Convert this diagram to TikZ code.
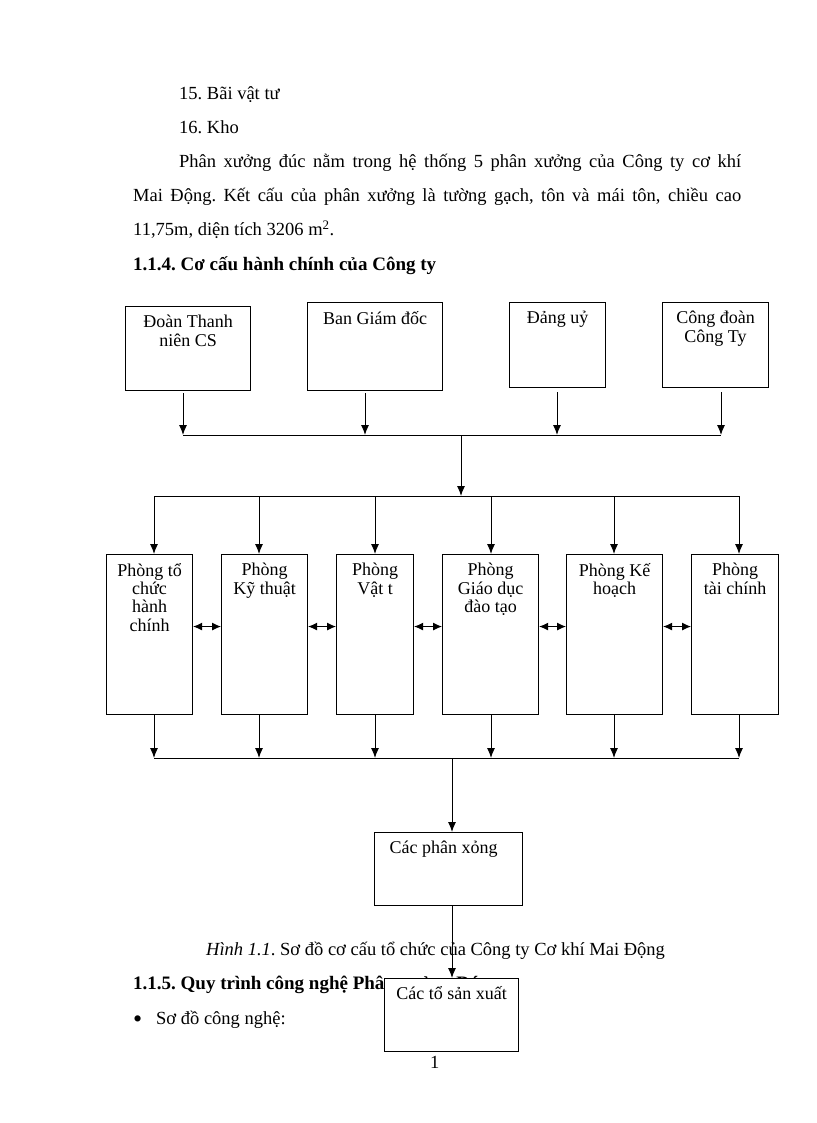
\documentclass[tikz,border=0pt]{standalone}
\usepackage{fontspec}
\setmainfont{Liberation Serif}
\usetikzlibrary{arrows.meta}
\frenchspacing

\begin{document}
\begin{tikzpicture}[x=1pt,y=-1pt,
  every node/.style={inner sep=0pt},
  body/.style={anchor=base west,font=\fontsize{18.5}{22}\selectfont},
  box/.style={draw,line width=1.1pt,fill=white,anchor=north west},
  lbl/.style={anchor=north,align=center,inner sep=0pt,yshift=-9pt,font=\fontsize{18}{18.3}\selectfont},
  arr/.style={line width=1pt,-{Latex[length=10pt,width=8pt]}},
  dbl/.style={line width=1pt,{Latex[length=9pt,width=8pt]}-{Latex[length=9pt,width=8pt]}},
  bus/.style={line width=1pt}]
\useasboundingbox[fill=white] (0,0) rectangle (816,1123);

\node[body] (t0) at (179,100) {15. Bãi vật tư};
\node[body] (t1) at (179,134) {16. Kho};
\node[body] (t2) at (179,168) {\makebox[562pt][s]{Phân xưởng đúc nằm trong hệ thống 5 phân xưởng của Công ty cơ khí}};
\node[body] (t3) at (133,202) {\makebox[608pt][s]{Mai Động. Kết cấu của phân xưởng là tường gạch, tôn và mái tôn, chiều cao}};
\node[body] (t4) at (133,236) {11,75m, diện tích 3206 m\textsuperscript{2}.};
\node[body,font=\fontsize{19}{22}\selectfont\bfseries] (t5) at (133,270) {1.1.4. Cơ cấu hành chính của Công ty};

\node[body] (cap) at (206,955) {\textit{Hình 1.1}. Sơ đồ cơ cấu tổ chức của Công ty Cơ khí Mai Động};
\node[body,font=\fontsize{19}{22}\selectfont\bfseries] (t6) at (133,989) {1.1.5. Quy trình công nghệ Phân xưởng Đúc};
\node[body,font=\fontsize{26}{26}\selectfont] (dot) at (133,1027) {•};
\node[body] (t7) at (156,1024) {Sơ đồ công nghệ:};
\node[body] (pg) at (430,1068) {1};

\node[box,minimum width=125,minimum height=84,label={[lbl]north:{Đoàn Thanh\\niên CS}}] (top0) at (125,306) {};
\node[box,minimum width=135,minimum height=88,label={[lbl]north:{Ban Giám đốc}}] (top1) at (307,302) {};
\node[box,minimum width=96,minimum height=85,label={[lbl]north:{Đảng uỷ}}] (top2) at (509,302) {};
\node[box,minimum width=106,minimum height=85,label={[lbl]north:{Công đoàn\\Công Ty}}] (top3) at (662,302) {};

\node[box,minimum width=86,minimum height=160,label={[lbl]north:{Phòng tổ\\chức\\hành\\chính}}] (ph0) at (106,554) {};
\node[box,minimum width=86,minimum height=160,label={[lbl]north:{Phòng\\Kỹ thuật}}] (ph1) at (221,554) {};
\node[box,minimum width=77,minimum height=160,label={[lbl]north:{Phòng\\Vật t}}] (ph2) at (336,554) {};
\node[box,minimum width=96,minimum height=160,label={[lbl]north:{Phòng\\Giáo dục\\đào tạo}}] (ph3) at (442,554) {};
\node[box,minimum width=96,minimum height=160,label={[lbl]north:{Phòng Kế\\hoạch}}] (ph4) at (566,554) {};
\node[box,minimum width=87,minimum height=160,label={[lbl]north:{Phòng\\tài chính}}] (ph5) at (691,554) {};

\node[box,minimum width=148,minimum height=73,label={[lbl,xshift=-5pt]north:{Các phân xỏng}}] (px) at (374,832) {};
\node[box,minimum width=134,minimum height=73,label={[lbl,yshift=1pt]north:{Các tổ sản xuất}}] (tsx) at (384,978) {};

\coordinate (j0) at (183,435);
\coordinate (j1) at (365,435);
\coordinate (j2) at (557,435);
\coordinate (j3) at (721,435);
\coordinate (jm) at (461,435);
\coordinate (k0) at (154,496);
\coordinate (k1) at (259,496);
\coordinate (k2) at (375,496);
\coordinate (k3) at (491,496);
\coordinate (k4) at (614,496);
\coordinate (k5) at (739,496);
\coordinate (l0) at (154,758);
\coordinate (l1) at (259,758);
\coordinate (l2) at (375,758);
\coordinate (l3) at (491,758);
\coordinate (l4) at (614,758);
\coordinate (l5) at (739,758);
\coordinate (lm) at (452,758);

\draw[arr] ([yshift=-2pt]top0.south -| j0) -- (j0);
\draw[arr] ([yshift=-2pt]top1.south -| j1) -- (j1);
\draw[arr] ([yshift=-4pt]top2.south -| j2) -- (j2);
\draw[arr] ([yshift=-4pt]top3.south -| j3) -- (j3);
\draw[bus] (j0) -- (j3);
\draw[arr] (jm) -- (jm |- k0);
\draw[bus] (k0) -- (k5);
\draw[arr] (k0) -- (k0 |- ph0.north);
\draw[arr] (k1) -- (k1 |- ph1.north);
\draw[arr] (k2) -- (k2 |- ph2.north);
\draw[arr] (k3) -- (k3 |- ph3.north);
\draw[arr] (k4) -- (k4 |- ph4.north);
\draw[arr] (k5) -- (k5 |- ph5.north);

\draw[dbl] ([yshift=8pt]ph0.east) -- ([yshift=8pt]ph1.west);
\draw[dbl] ([yshift=8pt]ph1.east) -- ([yshift=8pt]ph2.west);
\draw[dbl] ([yshift=8pt]ph2.east) -- ([yshift=8pt]ph3.west);
\draw[dbl] ([yshift=8pt]ph3.east) -- ([yshift=8pt]ph4.west);
\draw[dbl] ([yshift=8pt]ph4.east) -- ([yshift=8pt]ph5.west);

\draw[arr] (l0 |- ph0.south) -- (l0);
\draw[arr] (l1 |- ph1.south) -- (l1);
\draw[arr] (l2 |- ph2.south) -- (l2);
\draw[arr] (l3 |- ph3.south) -- (l3);
\draw[arr] (l4 |- ph4.south) -- (l4);
\draw[arr] (l5 |- ph5.south) -- (l5);
\draw[bus] (l0) -- (l5);
\draw[arr] (lm) -- (lm |- px.north);
\draw[arr] (lm |- px.south) -- (lm |- tsx.north);

\end{tikzpicture}
\end{document}
